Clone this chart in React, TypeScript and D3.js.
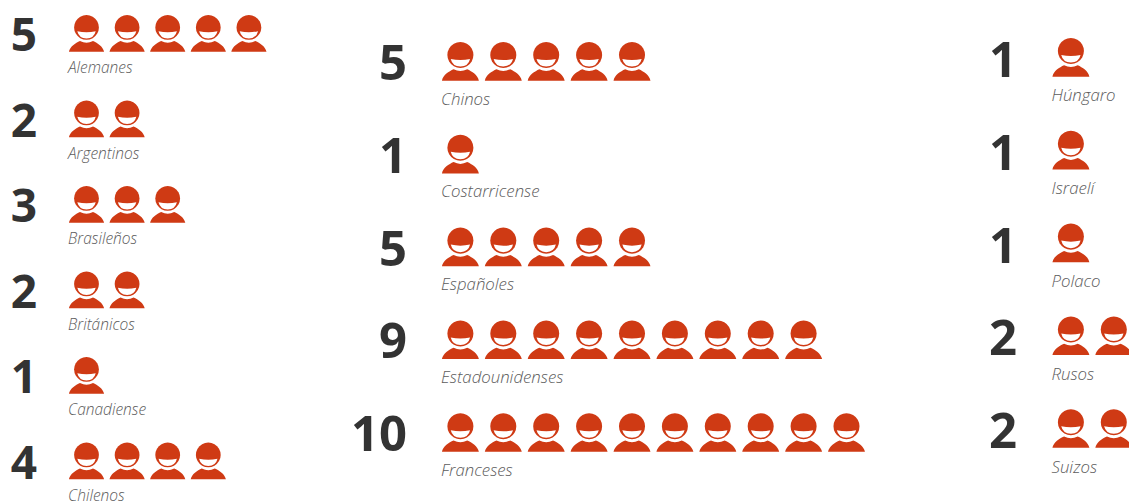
import React from "react";
import * as d3 from "d3";

const leftNames = ["Alemanes", "Argentinos", "Brasileños", "Británicos", "Canadiense", "Chilenos"];
const leftCounts = [5, 2, 3, 2, 1, 4];
const midNames = ["Chinos", "Costarricense", "Españoles", "Estadounidenses", "Franceses"];
const midCounts = [5, 1, 5, 9, 10];
const rightNames = ["Húngaro", "Israelí", "Polaco", "Rusos", "Suizos"];
const rightCounts = [1, 1, 1, 2, 2];

const W = 1129, H = 501;
const RED = "#cf3a14";
const DARK = "#333333";
const GREY = "#5c5c5c";

// icon drawn in a 36x37 box
const headPath = "M18 0 A12.4 12.4 0 1 1 17.99 0 Z";
const smilePath = "M8.8 16.2 Q18 18.2 27.2 16.2 Q25.6 23.2 18 23.4 Q10.4 23.2 8.8 16.2 Z";
const bodyPath = "M0.4 36.8 C1.5 31.5 7 28 11.5 26 Q18 29.4 24.5 26 C29 28 34.5 31.5 35.6 36.8 Z";

function Person({ x, y, s }: { x: number; y: number; s: number }) {
  return (
    <g transform={`translate(${x},${y}) scale(${s})`}>
      <path d={headPath} fill={RED} />
      <path d={smilePath} fill="#fff" />
      <path d={bodyPath} fill={RED} />
    </g>
  );
}

type Col = {
  names: string[]; counts: number[];
  numX: number; iconX: number; step: number; rowTop: number; rowStep: number;
  iconScale: number; labelDy: number; numDy: number; labelSize: number; numSize: number;
};

const cols: Col[] = [
  { names: leftNames, counts: leftCounts, numX: 37, iconX: 68.5, step: 40.6, rowTop: 15, rowStep: 85.5, iconScale: 1, labelDy: 58.2, numDy: 36, labelSize: 15.5, numSize: 46 },
  { names: midNames, counts: midCounts, numX: 407, iconX: 441.5, step: 42.9, rowTop: 42, rowStep: 92.8, iconScale: 1.05, labelDy: 62.5, numDy: 38, labelSize: 16.8, numSize: 49 },
  { names: rightNames, counts: rightCounts, numX: 1017, iconX: 1052, step: 42.9, rowTop: 38, rowStep: 92.8, iconScale: 1.05, labelDy: 63.3, numDy: 39, labelSize: 16.8, numSize: 49 },
];

export default function App() {
  return (
    <svg width={W} height={H} viewBox={`0 0 ${W} ${H}`} style={{ position: "absolute", left: 0, top: 0, background: "#fff" }}>
      {cols.map((c, ci) => {
        const yScale = d3.scaleLinear().domain([0, 1]).range([c.rowTop, c.rowTop + c.rowStep]);
        const xScale = d3.scaleLinear().domain([0, 1]).range([c.iconX, c.iconX + c.step]);
        return (
          <g key={ci}>
            {c.names.map((name, i) => {
              const y = yScale(i);
              return (
                <g key={name}>
                  <text x={c.numX} y={y + c.numDy} textAnchor="end" fontFamily="'Open Sans', sans-serif" fontWeight={700} fontSize={c.numSize} fill={DARK}>{c.counts[i]}</text>
                  {d3.range(c.counts[i]).map((k) => (
                    <Person key={k} x={xScale(k)} y={y} s={c.iconScale} />
                  ))}
                  <text x={c.iconX - 0.5} y={y + c.labelDy} fontFamily="'Open Sans', sans-serif" fontStyle="italic" fontWeight={300} fontSize={c.labelSize} fill={GREY}>{name}</text>
                </g>
              );
            })}
          </g>
        );
      })}
    </svg>
  );
}
